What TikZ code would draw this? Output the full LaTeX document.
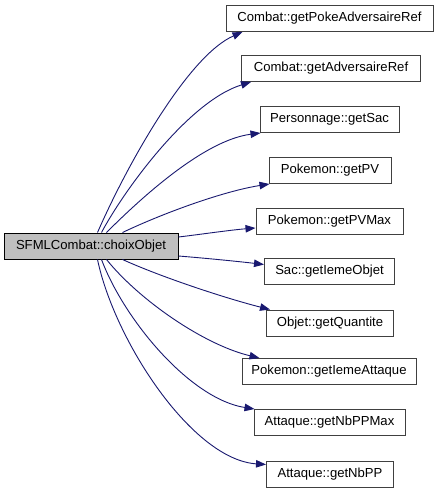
\documentclass[tikz,border=0pt]{standalone}
\usepackage{fontspec}
\setmainfont{Liberation Sans}
\usetikzlibrary{arrows.meta,calc}
\definecolor{edgeblue}{HTML}{191970}
\definecolor{boxgrey}{HTML}{BFBFBF}
\definecolor{bordergrey}{HTML}{404040}
\begin{document}
\begin{tikzpicture}[x=1pt,y=-1pt,
  box/.style={draw=bordergrey,line width=1pt,fill=white,minimum height=26pt,inner sep=0pt,font=\fontsize{13.1}{15}\selectfont,text=black},
  mainbox/.style={box,draw=black,fill=boxgrey},
  edge/.style={draw=edgeblue,line width=0.9pt,-{Triangle[length=10pt,width=7.5pt]}}]
\useasboundingbox (0,0) rectangle (439,493);
\fill[white] (0,0) rectangle (439,493);
\node[mainbox,minimum width=174pt] (m) at (91,246) {SFMLCombat::choixObjet};
\node[box,minimum width=207pt] (n1) at (329.5,18.5) {Combat::getPokeAdversaireRef};
\node[box,minimum width=179pt] (n2) at (331,68.5) {Combat::getAdversaireRef};
\node[box,minimum width=139pt] (n3) at (329.5,119.5) {Personnage::getSac};
\node[box,minimum width=122pt] (n4) at (330,170.5) {Pokemon::getPV};
\node[box,minimum width=147pt] (n5) at (329.5,221.5) {Pokemon::getPVMax};
\node[box,minimum width=130pt] (n6) at (329.5,271.5) {Sac::getIemeObjet};
\node[box,minimum width=127pt] (n7) at (330,323) {Objet::getQuantite};
\node[box,minimum width=174pt] (n8) at (329,371.5) {Pokemon::getIemeAttaque};
\node[box,minimum width=151pt] (n9) at (329.5,422.5) {Attaque::getNbPPMax};
\node[box,minimum width=127pt] (n10) at (330,474) {Attaque::getNbPP};
% upper edges
\draw[edge] ($(m.north west)+(94,0)$) .. controls +(32,-73) and +(-53,23) .. ($(n1.south west)+(17,0)$);
\draw[edge] ($(m.north west)+(98,0)$) .. controls +(23,-43) and +(-62,19) .. ($(n2.south west)+(10,0)$);
\draw[edge] ($(m.north west)+(103,0)$) .. controls +(38,-38) and +(-55,7) .. ($(n3.south west)+(1,0)$);
\draw[edge] ($(m.north west)+(119,0)$) .. controls +(42,-20) and +(-45,7) .. ($(n4.south west)+(1,0)$);
\draw[edge] ($(m.east)+(0,-9)$) .. controls +(25,-3) and +(-25,2) .. ($(n5.west)+(0,6.5)$);
\draw[edge] ($(m.east)+(0,10)$) .. controls +(25,2) and +(-25,-3) .. ($(n6.west)+(0,-7)$);
% lower edges
\draw[edge] ($(m.south west)+(119,0)$) .. controls +(42,19) and +(-40,-10) .. ($(n7.north west)+(4,0)$);
\draw[edge] ($(m.south west)+(103,0)$) .. controls +(33,41) and +(-55,-13) .. ($(n8.north west)+(18,0)$);
\draw[edge] ($(m.south west)+(98,0)$) .. controls +(23,61) and +(-64,-10) .. ($(n9.north west)+(1,0)$);
\draw[edge] ($(m.south west)+(94,0)$) .. controls +(17,81) and +(-74,-5) .. ($(n10.north west)+(0,4)$);
\end{tikzpicture}
\end{document}
